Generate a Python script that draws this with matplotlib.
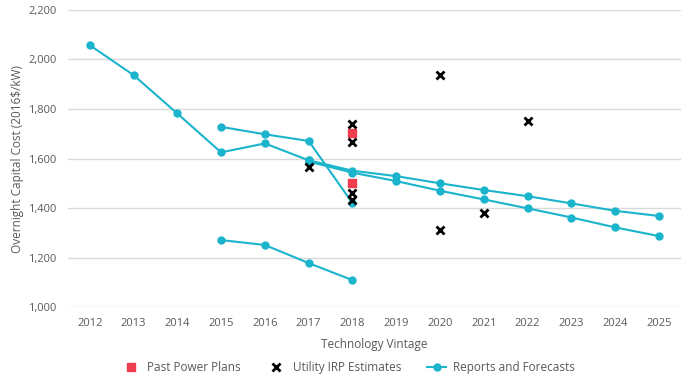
import matplotlib.pyplot as plt
from matplotlib.ticker import FuncFormatter

plt.rcParams['font.family'] = ['Open Sans', 'DejaVu Sans']

# Reports and Forecasts (each line is one report series)
years_a = [2012, 2013, 2014, 2015, 2016, 2017]
cost_a = [2058, 1937, 1782, 1625, 1661, 1593]
years_b = [2015, 2016, 2017, 2018]
cost_b = [1728, 1698, 1671, 1420]
years_c = [2017, 2018, 2019, 2020, 2021, 2022, 2023, 2024, 2025]
cost_c = [1593, 1551, 1529, 1500, 1473, 1448, 1419, 1389, 1368]
years_d = [2017, 2018, 2019, 2020, 2021, 2022, 2023, 2024, 2025]
cost_d = [1588, 1543, 1509, 1470, 1435, 1399, 1362, 1322, 1287]
years_e = [2015, 2016, 2017, 2018]
cost_e = [1271, 1251, 1178, 1109]
report_lines = [(years_a, cost_a), (years_b, cost_b), (years_c, cost_c),
                (years_d, cost_d), (years_e, cost_e)]

# Past Power Plans
past_years = [2018, 2018]
past_cost = [1702, 1502]

# Utility IRP Estimates
irp_years = [2017, 2018, 2018, 2018, 2018, 2020, 2020, 2021, 2022]
irp_cost = [1567, 1739, 1668, 1459, 1432, 1937, 1311, 1379, 1753]

teal = '#1ab4cc'
grey = '#595959'

fig = plt.figure(figsize=(6.92, 3.83), dpi=100)
ax = fig.add_axes([0.098, 0.198, 0.886, 0.776])

for i, (xs, ys) in enumerate(report_lines):
    ax.plot(xs, ys, color=teal, lw=1.5, marker='o', markersize=5,
            label='Reports and Forecasts' if i == 0 else None, zorder=3)
ax.plot(past_years, past_cost, ls='none', marker='s', markersize=6,
        color='#ee3e4f', label='Past Power Plans', zorder=4)
ax.plot(irp_years, irp_cost, ls='none', marker='x', markersize=6,
        mew=2, color='black', label='Utility IRP Estimates', zorder=5)

ax.set_xlim(2011.5, 2025.5)
ax.set_ylim(1000, 2200)
ax.set_xticks(range(2012, 2026))
ax.set_yticks(range(1000, 2201, 200))
ax.yaxis.set_major_formatter(FuncFormatter(lambda v, p: f'{int(v):,}'))
ax.grid(axis='y', color='#d9d9d9', lw=1)
ax.set_axisbelow(True)
for s in ax.spines.values():
    s.set_visible(False)
ax.tick_params(length=0, labelsize=8, colors=grey, pad=8)
ax.tick_params(axis='y', pad=8)

ax.set_xlabel('Technology Vintage', fontsize=8.5, color=grey, labelpad=6)
ax.set_ylabel('Overnight Capital Cost (2016$/kW)', fontsize=8.5, color=grey, labelpad=3)

h, l = ax.get_legend_handles_labels()
order = [1, 2, 0]
leg = fig.legend([h[i] for i in order], [l[i] for i in order], loc='center',
                 bbox_to_anchor=(0.503, 0.04), ncol=3, frameon=False,
                 fontsize=8.5, handlelength=1.6, columnspacing=2.2,
                 handletextpad=0.6)
for t in leg.get_texts():
    t.set_color(grey)

fig.savefig('out.png', dpi=100)
